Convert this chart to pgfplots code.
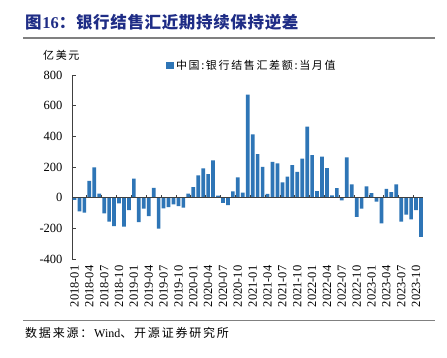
\documentclass[border=0pt]{standalone}
\usepackage{pgfplots}
\pgfplotsset{compat=1.18}
\usepackage{fontspec}
\setmainfont{Liberation Serif}
\newfontfamily\cjk{Noto Sans CJK SC}[LetterSpace=15]
\newfontfamily\cjkt{Noto Sans CJK SC}[LetterSpace=4]
\definecolor{barblue}{RGB}{46,117,182}
\definecolor{titleblue}{RGB}{31,45,134}
\definecolor{axisgray}{RGB}{64,64,64}
\begin{document}
\begin{tikzpicture}[x=1pt,y=1pt]
\fill[white] (0,0) rectangle (447,-358);
\useasboundingbox (0,0) rectangle (447,-358);
\node[anchor=west, inner sep=0, text=titleblue] at (25,-22.5) {\fontsize{16.5}{16.5}\selectfont\bfseries\cjkt 图\textrm{16}：银行结售汇近期持续保持逆差};
\draw[gray, line width=1.3] (23,-38) -- (435,-38);
\draw[gray, line width=1.0] (23,-320.5) -- (435,-320.5);
\node[anchor=west, inner sep=0] at (25,-332.5) {\fontsize{12}{12}\selectfont\cjk 数据来源：\textrm{Wind}、开源证券研究所};
\node[anchor=west, inner sep=0] at (43,-55) {\fontsize{11}{11}\selectfont\cjk 亿美元};
\begin{axis}[
  at={(72pt,-259pt)}, anchor=south west,
  scale only axis, width=351.5pt, height=184pt,
  xmin=-0.5, xmax=70.5, ymin=-400, ymax=800,
  axis y line*=left, axis x line*=bottom,
  x axis line style={draw=none},
  y axis line style={-, draw=axisgray, line width=0.8pt},
  xtick={0,3,...,69},
  xticklabels={2018-01,2018-04,2018-07,2018-10,2019-01,2019-04,2019-07,2019-10,2020-01,2020-04,2020-07,2020-10,2021-01,2021-04,2021-07,2021-10,2022-01,2022-04,2022-07,2022-10,2023-01,2023-04,2023-07,2023-10},
  xtick style={draw=none},
  ytick={-400,-200,0,200,400,600,800},
  yticklabels={-400,-200,0,200,400,600,800},
  tick align=inside, major tick length=4pt,
  ytick style={draw=axisgray, line width=0.8pt},
  yticklabel style={font=\fontsize{12.5}{12.5}\selectfont, xshift=-6pt},
  xticklabel style={font=\fontsize{12.5}{12.5}\selectfont, yshift=-3pt, rotate=90, anchor=east},
  legend style={draw=none, fill=none, at={(axis description cs:0.268,1.052)}, anchor=west,
    font=\fontsize{11}{11}\selectfont\cjk, inner sep=0pt,
    /tikz/every even column/.append style={column sep=2pt}},
  legend image code/.code={\fill[barblue] (0pt,-3.8pt) rectangle (7.6pt,3.8pt);},
]
\addplot[ybar, bar width=3.7pt, fill=barblue, draw=none] table {
x y
0 -15
1 -90
2 -98
3 109
4 197
5 26
6 -102
7 -157
8 -185
9 -38
10 -189
11 -81
12 124
13 -159
14 -71
15 -120
16 64
17 -202
18 -70
19 -61
20 -43
21 -55
22 -65
23 26
24 68
25 146
26 191
27 153
28 243
29 13
30 -34
31 -49
32 41
33 133
34 33
35 672
36 412
37 284
38 201
39 25
40 234
41 223
42 99
43 138
44 212
45 168
46 255
47 463
48 278
49 43
50 268
51 193
52 15
53 63
54 -17
55 262
56 86
57 -126
58 -71
59 74
60 30
61 -26
62 -167
63 58
64 36
65 87
66 -157
67 -110
68 -142
69 -82
70 -255
};
\addlegendentry{中国:银行结售汇差额:当月值}
\addplot[forget plot, draw=axisgray, line width=1.2pt] coordinates {(-0.5,0) (70.5,0)};
\pgfplotsinvokeforeach{2.5,5.5,...,68.5}{\draw[axisgray, line width=0.8pt] (axis cs:#1,0) -- ([yshift=3pt]axis cs:#1,0);}
\end{axis}
\end{tikzpicture}
\end{document}
